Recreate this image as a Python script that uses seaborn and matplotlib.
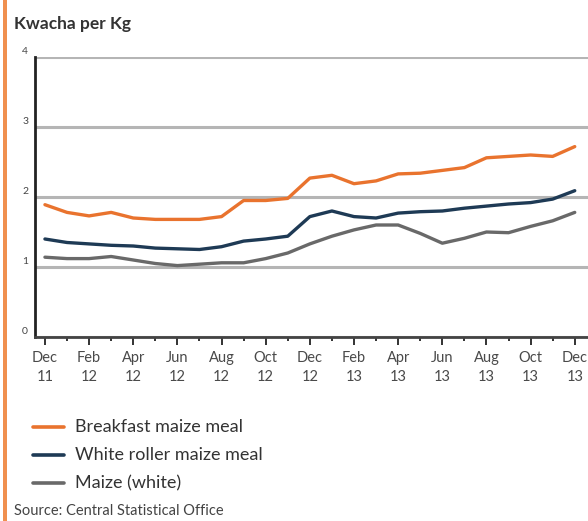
import matplotlib
matplotlib.use("Agg")
import matplotlib.pyplot as plt
import matplotlib.transforms as mtransforms
from matplotlib.patches import Rectangle
from matplotlib.lines import Line2D
import seaborn as sns
import pandas as pd

# Monthly retail prices, Dec 2011 - Dec 2013 (Kwacha per Kg)
months = ["Dec 11", "Jan 12", "Feb 12", "Mar 12", "Apr 12", "May 12", "Jun 12",
          "Jul 12", "Aug 12", "Sep 12", "Oct 12", "Nov 12", "Dec 12", "Jan 13",
          "Feb 13", "Mar 13", "Apr 13", "May 13", "Jun 13", "Jul 13", "Aug 13",
          "Sep 13", "Oct 13", "Nov 13", "Dec 13"]
breakfast = [1.89, 1.78, 1.73, 1.78, 1.70, 1.68, 1.68, 1.68, 1.72, 1.95, 1.95, 1.98,
             2.27, 2.31, 2.19, 2.23, 2.33, 2.34, 2.38, 2.42, 2.56, 2.58, 2.60, 2.58, 2.72]
roller = [1.40, 1.35, 1.33, 1.31, 1.30, 1.27, 1.26, 1.25, 1.29, 1.37, 1.40, 1.44,
          1.72, 1.80, 1.72, 1.70, 1.77, 1.79, 1.80, 1.84, 1.87, 1.90, 1.92, 1.97, 2.09]
maize = [1.14, 1.12, 1.12, 1.15, 1.10, 1.05, 1.02, 1.04, 1.06, 1.06, 1.12, 1.20,
         1.33, 1.44, 1.53, 1.60, 1.60, 1.48, 1.34, 1.41, 1.50, 1.49, 1.58, 1.66, 1.78]
series_names = ["Breakfast maize meal", "White roller maize meal", "Maize (white)"]
tick_labels = ["Dec\n11", "Feb\n12", "Apr\n12", "Jun\n12", "Aug\n12", "Oct\n12", "Dec\n12",
               "Feb\n13", "Apr\n13", "Jun\n13", "Aug\n13", "Oct\n13", "Dec\n13"]
y_ticks = [0, 1, 2, 3, 4]

colors = ["#E9732E", "#1E3A55", "#696969"]

df = pd.DataFrame({
    "idx": list(range(len(months))) * 3,
    "price": breakfast + roller + maize,
    "series": sum([[n] * len(months) for n in series_names], []),
})

sns.set_theme(style="white")
plt.rcParams["font.family"] = ["Lato", "DejaVu Sans"]

fig = plt.figure(figsize=(5.88, 5.21), dpi=100)
ax = fig.add_axes([35 / 588, (521 - 337) / 521, 553 / 588, (337 - 57) / 521])

sns.lineplot(data=df, x="idx", y="price", hue="series", hue_order=series_names,
             palette=colors, linewidth=2.4, legend=False, ax=ax, zorder=3)

ax.set_xlim(-0.45, 24.6)
ax.set_ylim(0, 4)
ax.set_xlabel("")
ax.set_ylabel("")

# horizontal gridlines
ax.set_yticks(y_ticks)
ax.grid(axis="y", color="#b5b5b5", linewidth=2.2, zorder=0)
ax.grid(axis="x", visible=False)

ax.set_xticks(range(0, len(months), 2))
ax.set_xticklabels(tick_labels, fontsize=10.5, color="#4a4a4a", linespacing=1.45)
ax.set_xticks(range(1, len(months), 2), minor=True)
ax.tick_params(axis="x", which="major", direction="out", length=6, width=1.4,
               color="#333333", pad=4, bottom=True)
ax.tick_params(axis="x", which="minor", direction="out", length=3, width=1.4,
               color="#333333", bottom=True)
ax.tick_params(axis="y", length=0, pad=5, labelsize=7.5, labelcolor="#444444")
offset = mtransforms.ScaledTranslation(0, 5 / 72, fig.dpi_scale_trans)
for lab in ax.get_yticklabels():
    lab.set_transform(lab.get_transform() + offset)

for side in ["top", "right"]:
    ax.spines[side].set_visible(False)
ax.spines["left"].set_color("#222222")
ax.spines["left"].set_linewidth(2.0)
ax.spines["bottom"].set_color("#444444")
ax.spines["bottom"].set_linewidth(2.0)

# unit label
fig.text(14 / 588, 1 - 24 / 521, "Kwacha per Kg", fontsize=12.5, color="#333333",
         fontweight="bold", va="center", ha="left")

# legend
legend_rows = [427, 455, 483]
for name, col, yy in zip(series_names, colors, legend_rows):
    yf = 1 - yy / 521
    fig.add_artist(Line2D([33 / 588, 64 / 588], [yf, yf], color=col, linewidth=2.6,
                          transform=fig.transFigure))
    fig.text(75 / 588, yf, name, fontsize=13, color="#333333", va="center", ha="left")

fig.text(14 / 588, 1 - 511 / 521, "Source: Central Statistical Office", fontsize=10.5,
         color="#444444", va="center", ha="left")

# orange frame edge on the left
fig.add_artist(Rectangle((3 / 588, 0), 4 / 588, 1, transform=fig.transFigure,
                         color="#F0904F", linewidth=0))

fig.savefig("out.png", dpi=100)
